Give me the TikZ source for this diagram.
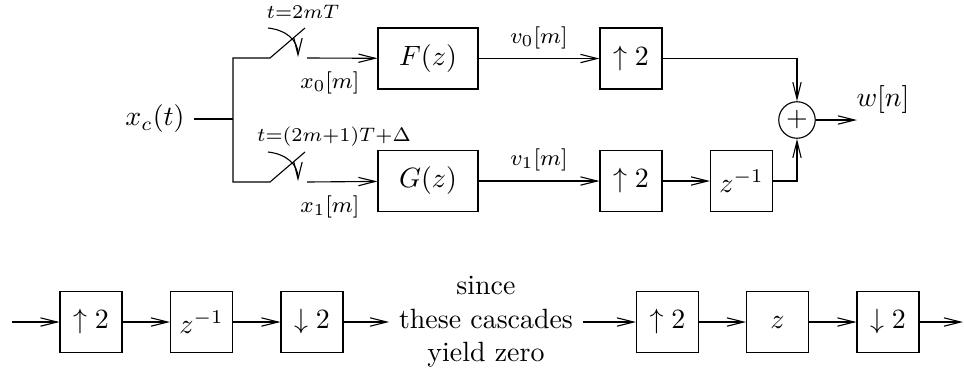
\documentclass[tikz,border=0pt]{standalone}
\usetikzlibrary{arrows.meta}
\begin{document}
\begin{tikzpicture}[
    x=0.0126cm, y=-0.0126cm,
    wide/.style={rectangle, draw, minimum width=1.26cm, minimum height=0.77cm, inner sep=0pt},
    block/.style={rectangle, draw, minimum width=0.78cm, minimum height=0.77cm, inner sep=0pt},
    adder/.style={circle, draw, minimum size=0.46cm, inner sep=0pt},
    arrow/.style={-{Straight Barb[length=6pt, width=3pt]}, thin},
    lbl/.style={font=\footnotesize}
]
\useasboundingbox (0,0) rectangle (964,369);

% Input and sampling switches
\node (xc) at (155,119) {$x_c(t)$};
\coordinate (split) at (233,119);
\coordinate (piv0) at (270,58);
\coordinate (tip0) at (305,28);
\coordinate (arc0a) at (268,28);
\coordinate (arc0b) at (298,57);
\coordinate (samp0) at (307,58);
\coordinate (piv1) at (270,182);
\coordinate (tip1) at (305,152);
\coordinate (arc1a) at (268,152);
\coordinate (arc1b) at (298,181);
\coordinate (samp1) at (307,182);
\node (t0) at (303,12) {$\scriptstyle t=2mT$};
\node (t1) at (334,137) {$\scriptstyle t=(2m+1)T+\Delta$};
\node[lbl] (x0) at (330,83) {$x_0[m]$};
\node[lbl] (x1) at (330,207) {$x_1[m]$};

% Upper and lower branches
\node[wide] (F) at (428,58.5) {$F(z)$};
\node[wide] (G) at (428,181) {$G(z)$};
\node[block] (up0) at (631,58.5) {$\uparrow 2$};
\node[block] (up1) at (631,181) {$\uparrow 2$};
\node[block] (zinv) at (741.5,181) {$z^{-1}$};
\node[adder] (sum) at (797,120) {$+$};
\coordinate (out) at (857,120);
\node (w) at (883,100) {$w[n]$};

% Bottom cascades
\coordinate (inA) at (12,322);
\node[block] (upA) at (91,322) {$\uparrow 2$};
\node[block] (delA) at (201.5,322) {$z^{-1}$};
\node[block] (downA) at (312,322) {$\downarrow 2$};
\node[align=center] (since) at (486,322) {since\\ these cascades\\ yield zero};
\node[block] (upB) at (667.5,322) {$\uparrow 2$};
\node[block] (advB) at (777.5,322) {$z$};
\node[block] (downB) at (888,322) {$\downarrow 2$};
\coordinate (outB) at (963,322);

% Arrows
\draw (xc) -- (split);
\draw (split) |- (piv0) -- (tip0);
\draw (split) |- (piv1) -- (tip1);
\draw[arrow] (arc0a) .. controls (286,30) and (298,40) .. (arc0b);
\draw[arrow] (arc1a) .. controls (286,154) and (298,164) .. (arc1b);
\draw[arrow] (samp0) -- (F);
\draw[arrow] (samp1) -- (G);
\draw[arrow] (F) -- (up0) node[midway, above, lbl] {$v_0[m]$};
\draw[arrow] (G) -- (up1) node[midway, above, lbl] {$v_1[m]$};
\draw[arrow] (up1) -- (zinv);
\draw[arrow] (up0) -| (sum);
\draw[arrow] (zinv) -| (sum);
\draw[arrow] (sum) -- (out);
\draw[arrow] (inA) -- (upA);
\draw[arrow] (upA) -- (delA);
\draw[arrow] (delA) -- (downA);
\draw[arrow] (downA) -- (since);
\draw[arrow] (since) -- (upB);
\draw[arrow] (upB) -- (advB);
\draw[arrow] (advB) -- (downB);
\draw[arrow] (downB) -- (outB);

\end{tikzpicture}
\end{document}
